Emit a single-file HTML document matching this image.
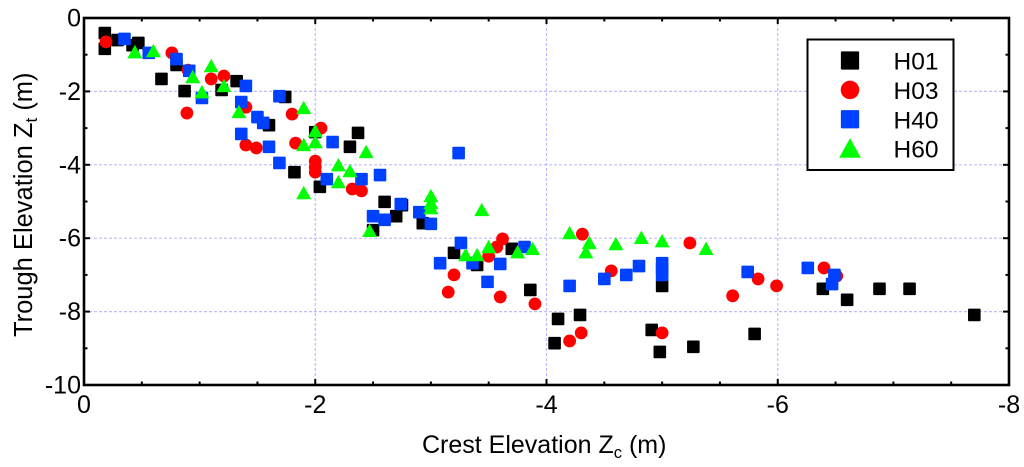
<!DOCTYPE html>
<html lang="en">
<head>
<meta charset="utf-8">
<title>Trough vs Crest Elevation</title>
<style>
html,body{margin:0;padding:0;background:#fff;width:1024px;height:467px;overflow:hidden}
svg{display:block}
text{font-family:"Liberation Sans",sans-serif;fill:#000}
</style>
</head>
<body>
<svg id="chart" width="1024" height="467" viewBox="0 0 1024 467" xmlns="http://www.w3.org/2000/svg">
  <rect width="1024" height="467" fill="#fff"/>
  <g id="grid"></g>
  <g id="marks"></g>
  <g id="axes"></g>
  <text x="422" y="453" font-size="25">Crest Elevation Z<tspan font-size="16.5" dy="5">c</tspan><tspan dy="-5"> (m)</tspan></text>
  <text transform="translate(32,337) rotate(-90)" font-size="25.5">Trough Elevation Z<tspan font-size="17" dy="5">t</tspan><tspan dy="-5"> (m)</tspan></text>
  <g id="legend">
    <rect x="807.5" y="39.5" width="146" height="130.5" fill="#fff" stroke="#000" stroke-width="2"/>
  </g>
</svg>
<script>
const seriesNames = ["H01", "H03", "H40", "H60"];
const xTickLabels = [0, -2, -4, -6, -8];
const yTickLabels = [0, -2, -4, -6, -8, -10];

const h01Crest = [-0.18,-0.18,-0.29,-0.47,-0.42,-0.67,-0.80,-0.87,-1.19,-1.32,-1.74,-1.60,-2.00,-1.82,-2.04,-2.30,-2.37,-2.60,-2.75,-2.70,-2.50,-2.93,-3.20,-3.40,-3.70,-3.86,-4.10,-4.29,-4.07,-4.91,-4.98,-5.27,-5.00,-5.80,-6.39,-6.60,-6.88,-7.14,-7.70];
const h01Trough = [-0.41,-0.84,-0.60,-0.68,-0.74,-1.66,-1.28,-1.99,-1.96,-1.72,-2.15,-2.92,-3.11,-4.20,-4.60,-3.51,-3.13,-5.01,-5.10,-5.40,-5.78,-5.59,-6.40,-6.73,-6.29,-7.41,-8.20,-8.09,-8.86,-8.50,-9.10,-8.96,-7.30,-8.61,-7.38,-7.68,-7.38,-7.38,-8.09];

const h03Crest = [-0.19,-0.76,-0.90,-1.10,-1.21,-1.40,-0.89,-1.80,-2.05,-1.83,-1.40,-1.49,-2.00,-2.00,-2.00,-2.32,-2.40,-4.31,-5.24,-3.62,-3.57,-3.50,-3.20,-3.15,-3.60,-3.90,-4.56,-4.20,-4.30,-5.00,-5.61,-5.83,-5.99,-6.40,-6.51];
const h03Trough = [-0.65,-0.95,-1.42,-1.66,-1.58,-2.43,-2.59,-2.62,-3.00,-3.41,-3.46,-3.54,-3.90,-4.06,-4.20,-4.66,-4.71,-5.89,-6.13,-6.02,-6.24,-6.49,-7.00,-7.47,-7.60,-7.79,-6.89,-8.80,-8.58,-8.58,-7.57,-7.11,-7.30,-6.81,-7.03];

const h40Crest = [-0.35,-0.56,-0.80,-0.91,-1.02,-1.40,-1.36,-1.50,-1.55,-1.36,-1.60,-1.69,-1.69,-2.15,-2.10,-3.24,-2.40,-2.56,-2.74,-2.90,-3.00,-2.50,-2.60,-3.26,-3.08,-3.36,-3.60,-3.49,-3.81,-4.20,-4.50,-4.69,-4.80,-5.00,-5.00,-5.00,-5.74,-6.26,-6.49,-6.47];
const h40Trough = [-0.57,-0.95,-1.12,-1.44,-2.18,-1.85,-2.29,-2.70,-2.86,-3.16,-3.51,-3.95,-2.13,-3.38,-4.39,-3.68,-4.39,-4.28,-5.07,-5.29,-5.61,-5.40,-5.50,-6.13,-6.68,-6.68,-6.70,-7.19,-6.24,-7.30,-7.11,-7.00,-6.76,-6.68,-6.84,-7.00,-6.92,-6.81,-7.00,-7.25];

const h60Crest = [-0.44,-0.60,-0.94,-1.02,-1.10,-1.21,-1.34,-1.90,-1.90,-2.00,-2.00,-2.20,-2.20,-1.90,-2.30,-2.44,-2.47,-3.00,-3.00,-3.00,-3.44,-3.30,-3.40,-3.50,-3.75,-3.88,-4.20,-4.37,-4.34,-4.60,-4.82,-5.00,-5.38];
const h60Trough = [-0.93,-0.90,-1.61,-2.02,-1.31,-1.85,-2.56,-2.45,-3.46,-3.08,-3.38,-4.01,-4.47,-4.77,-4.17,-3.65,-5.80,-4.85,-5.04,-5.18,-5.23,-6.46,-6.46,-6.24,-6.38,-6.29,-5.86,-6.13,-6.38,-6.16,-5.99,-6.08,-6.29];

const NS = "http://www.w3.org/2000/svg";
const plotLeft = 84, plotRight = 1009, plotTop = 18, plotBottom = 385;
const xMin = 0, xMax = -8, yMin = -10, yMax = 0;
const colors = {H01:"#000000", H03:"#ff0000", H40:"#0040ff", H60:"#00ff00"};

function xScale(v){ return plotLeft + (v - xMin) / (xMax - xMin) * (plotRight - plotLeft); }
function yScale(v){ return plotTop + (yMax - v) / (yMax - yMin) * (plotBottom - plotTop); }

function make(tag, attrs){
  const el = document.createElementNS(NS, tag);
  for (const k in attrs) el.setAttribute(k, attrs[k]);
  return el;
}

function marker(kind, cx, cy, color, scale){
  const k = scale || 1;
  if (kind === "H01" || kind === "H40") {
    return make("rect", {x:cx-6.3*k, y:cy-6.3*k, width:12.6*k, height:12.6*k, rx:1, fill:color});
  }
  if (kind === "H03") {
    return make("circle", {cx:cx, cy:cy, r:6.4*k, fill:color});
  }
  return make("polygon", {points:(cx-7.5*k)+","+(cy+6.2*k)+" "+cx+","+(cy-7.2*k)+" "+(cx+7.5*k)+","+(cy+6.2*k), fill:color});
}

const gridG = document.getElementById("grid");
const axesG = document.getElementById("axes");
const marksG = document.getElementById("marks");
const legendG = document.getElementById("legend");

xTickLabels.slice(1, -1).forEach(function(t){
  const line = make("line", {x1:xScale(t), x2:xScale(t), y1:plotTop, y2:plotBottom, stroke:"#bcbcff", "stroke-width":1.2, "stroke-dasharray":"3 2"});
  
  
  gridG.appendChild(line);
});
yTickLabels.slice(1, -1).forEach(function(t){
  const line = make("line", {x1:plotLeft, x2:plotRight, y1:yScale(t), y2:yScale(t), stroke:"#bcbcff", "stroke-width":1.2, "stroke-dasharray":"3 2"});
  
  
  gridG.appendChild(line);
});

const seriesData = [[h01Crest,h01Trough],[h03Crest,h03Trough],[h40Crest,h40Trough],[h60Crest,h60Trough]];
seriesNames.forEach(function(name, s){
  const g = make("g", {});
  
  
  const xs = seriesData[s][0], ys = seriesData[s][1];
  xs.forEach(function(x, i){
    const m = marker(name, xScale(x), yScale(ys[i]), colors[name], 1);
    
    
    g.appendChild(m);
  });
  marksG.appendChild(g);
});

const xFirst = xTickLabels[0], xLast = xTickLabels[xTickLabels.length - 1];
for (let i = 1; i < Math.round((xFirst - xLast) / 0.5); i++) {
  const v = xFirst - i * 0.5;
  const major = Math.abs(v / 2 - Math.round(v / 2)) < 1e-6;
  const len = major ? 6 : 3.5;
  [[plotTop, plotTop + len], [plotBottom, plotBottom - len]].forEach(function(p){
    const tick = make("line", {x1:xScale(v), x2:xScale(v), y1:p[0], y2:p[1], stroke:"#000", "stroke-width":2});
    
    
    axesG.appendChild(tick);
  });
}
for (let v = -1; v > yMin; v--) {
  const major = v % 2 === 0;
  const len = major ? 6 : 3.5;
  [[plotLeft, plotLeft + len], [plotRight, plotRight - len]].forEach(function(p){
    const tick = make("line", {x1:p[0], x2:p[1], y1:yScale(v), y2:yScale(v), stroke:"#000", "stroke-width":2});
    
    
    axesG.appendChild(tick);
  });
}

const frame = make("rect", {x:plotLeft, y:plotTop, width:plotRight-plotLeft, height:plotBottom-plotTop, fill:"none", stroke:"#000", "stroke-width":2.6});


axesG.appendChild(frame);

xTickLabels.forEach(function(t){
  const label = make("text", {x:xScale(t), y:plotBottom + 28, "text-anchor":"middle", "font-size":25});
  label.textContent = String(t);
  
  
  axesG.appendChild(label);
});
yTickLabels.forEach(function(t){
  const label = make("text", {x:plotLeft - 3, y:yScale(t) + 8.5, "text-anchor":"end", "font-size":25});
  label.textContent = String(t);
  
  
  axesG.appendChild(label);
});

seriesNames.forEach(function(name, i){
  const rowY = 60.5 + i * 29.4;
  const entry = make("g", {});
  
  
  const m = marker(name, 850, rowY, colors[name], 1.45);
  
  
  entry.appendChild(m);
  const label = make("text", {x:893.5, y:rowY + 9, "font-size":24.5});
  label.textContent = name;
  
  
  entry.appendChild(label);
  legendG.appendChild(entry);
});
</script>
</body>
</html>
